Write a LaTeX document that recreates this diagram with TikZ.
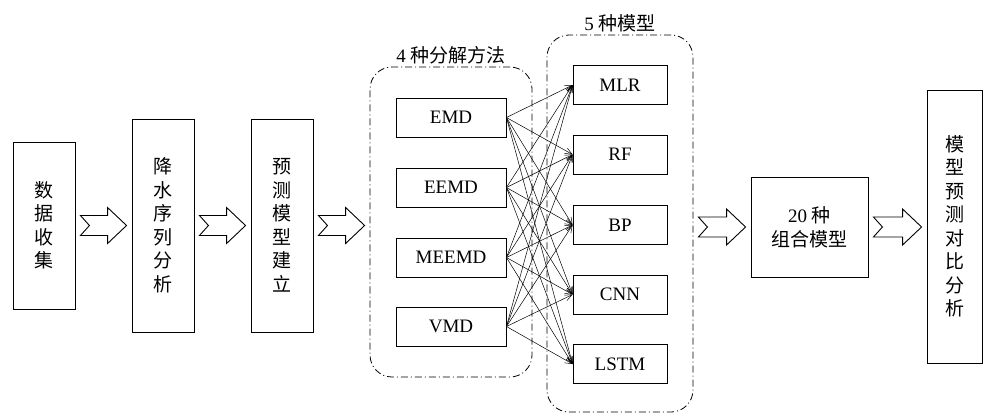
\documentclass[tikz,border=0pt]{standalone}
\usepackage{fontspec}
\setmainfont{Liberation Serif}
\newfontfamily\cjk{Noto Sans CJK SC}
\usepackage{xcolor}
\usepackage{tikz}
\usetikzlibrary{positioning,calc,arrows.meta}

\tikzset{
  stepbox/.style={rectangle, draw, line width=0.9pt, align=center, inner sep=0pt,
    font=\fontsize{19}{23.5}\selectfont\cjk},
  methodbox/.style={rectangle, draw, line width=0.9pt, minimum width=110pt,
    minimum height=39pt, inner sep=0pt, font=\fontsize{19}{22}\selectfont},
  modelbox/.style={methodbox, minimum width=94pt},
  groupbox/.style={rectangle, draw, rounded corners=22pt, line width=0.8pt,
    dash pattern=on 7pt off 3pt on 1pt off 3pt},
  grouplabel/.style={font=\fontsize{19}{22}\selectfont, inner sep=1pt},
  link/.style={->, >={Straight Barb[length=7pt,width=6pt]}, line width=0.5pt},
  fatarrow/.style={draw, line width=0.9pt, line join=miter,
    to path={let \p1=(\tikztostart), \p2=(\tikztotarget) in
      (\x1+5pt,\y1+10pt) -- (\x1+14pt,\y1) -- (\x1+5pt,\y1-10pt)
      -- (\x2-24pt,\y1-10pt) -- (\x2-24pt,\y1-18pt) -- (\x2-5pt,\y1)
      -- (\x2-24pt,\y1+18pt) -- (\x2-24pt,\y1+10pt) -- cycle}}
}

\begin{document}
\begin{tikzpicture}[x=1pt, y=-1pt]
    \useasboundingbox (0,0) rectangle (985,413);

    % main steps
    \node[stepbox, minimum width=62pt, minimum height=167pt] (data) at (44,225.5) {数\\据\\收\\集};
    \node[stepbox, minimum width=62pt, minimum height=213pt] (rain) at (163,225.5) {降\\水\\序\\列\\分\\析};
    \node[stepbox, minimum width=62pt, minimum height=213pt] (build) at (282,225.5) {预\\测\\模\\型\\建\\立};

    % decomposition methods
    \node[groupbox, minimum width=162pt, minimum height=310pt] (decomp) at (451,222) {};
    \node[grouplabel, above=1pt of decomp] (decomplabel) {4 {\cjk 种分解方法}};
    \node[methodbox] (emd) at (451,117.5) {EMD};
    \node[methodbox] (eemd) at (451,187.5) {EEMD};
    \node[methodbox] (meemd) at (451,257.5) {MEEMD};
    \node[methodbox] (vmd) at (451,326.5) {VMD};

    % prediction models
    \node[groupbox, minimum width=146pt, minimum height=377pt] (models) at (620,223.5) {};
    \node[grouplabel, above=1pt of models] (modelslabel) {5 {\cjk 种模型}};
    \node[modelbox] (mlr) at (620,85) {MLR};
    \node[modelbox] (rf) at (620,154.5) {RF};
    \node[modelbox] (bp) at (620,225) {BP};
    \node[modelbox] (cnn) at (620,294.5) {CNN};
    \node[modelbox] (lstm) at (620,364) {LSTM};

    \node[stepbox, minimum width=117pt, minimum height=100pt,
      font=\fontsize{19}{24}\selectfont] (combo) at (809.5,227) {20 {\cjk 种}\\{\cjk 组合模型}};
    \node[stepbox, minimum width=55pt, minimum height=273pt] (compare) at (954.5,226.5) {模\\型\\预\\测\\对\\比\\分\\析};

    % every method feeds every model
    \foreach \m in {emd, eemd, meemd, vmd}
      \foreach \p in {mlr, rf, bp, cnn, lstm}
        \draw[link] (\m.east) -- (\p.west);

    \draw[fatarrow] (data.east) to (rain.west);
    \draw[fatarrow] (rain.east) to (build.west);
    \draw[fatarrow] (build.east) to (build.east -| decomp.west);
    \draw[fatarrow] (combo.west -| models.east) to (combo.west);
    \draw[fatarrow] (combo.east) to (compare.west);
\end{tikzpicture}
\end{document}
